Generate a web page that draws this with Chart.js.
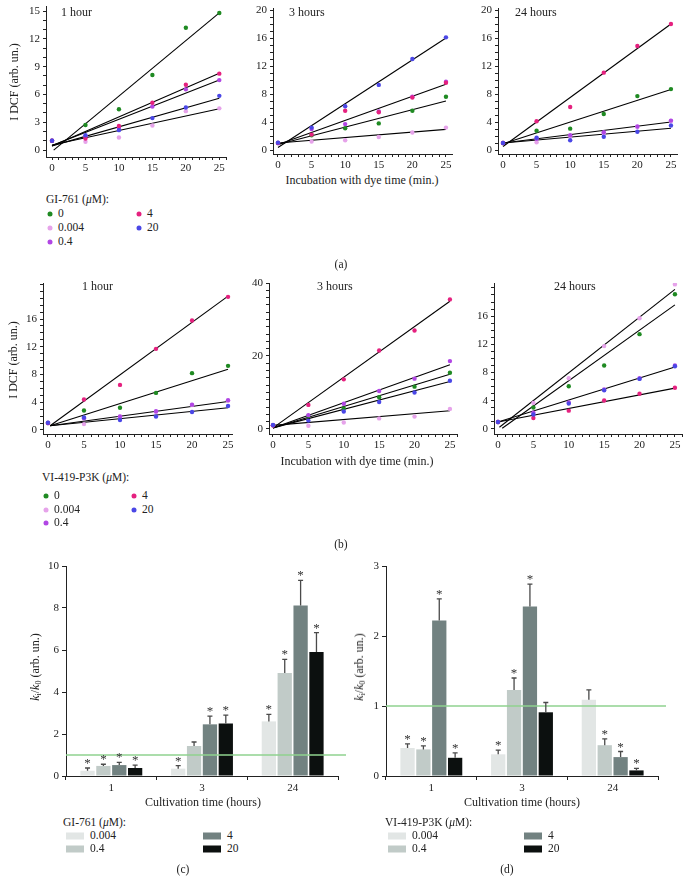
<!DOCTYPE html>
<html>
<head>
<meta charset="utf-8">
<script src="https://cdn.jsdelivr.net/npm/chart.js@4.4.0/dist/chart.umd.min.js"></script>
<style>
  body { margin: 0; width: 687px; height: 892px; position: relative; background: #fff; overflow: hidden;
         font-family: "Liberation Serif", "DejaVu Serif", serif; color: #222; }
  .box { position: absolute; }
  .t { position: absolute; font-size: 11.5px; line-height: 1; white-space: nowrap; transform: translateY(-50%); }
  .tc { position: absolute; font-size: 11.5px; line-height: 1; white-space: nowrap; transform: translate(-50%, -50%); }
  .tv { position: absolute; font-size: 11.5px; line-height: 1; white-space: nowrap; transform: translate(-50%, -50%) rotate(-90deg); }
  .dot { position: absolute; width: 5px; height: 5px; border-radius: 50%; transform: translate(-50%, -50%); }
  .sw { position: absolute; width: 18px; height: 7px; transform: translateY(-50%); }
  sub { font-size: 8px; vertical-align: -2px; line-height: 0; }
</style>
</head>
<body>
<script>
const FONT = '"Liberation Serif", "DejaVu Serif", serif';
Chart.defaults.font.family = FONT;
Chart.defaults.color = '#222';

// ---- data ----
const minutes = [0, 5, 10, 15, 20, 25];
const doses = ['0', '0.004', '0.4', '4', '20'];
const doseColors = ['#1f8a22', '#e6a3ea', '#b146e4', '#e5217f', '#4a47e6'];

// (a) GI-761, rows follow doses
const a1Vals = [
  [1.0, 2.7, 4.4, 8.1, 13.2, 14.8],
  [1.0, 0.9, 1.35, 2.65, 4.2, 4.5],
  [1.0, 1.5, 2.4, 4.7, 6.55, 7.55],
  [1.0, 1.25, 2.6, 5.1, 7.05, 8.25],
  [1.0, 1.6, 2.15, 3.45, 4.6, 5.85]
];
const a2Vals = [
  [1.0, 2.1, 3.1, 3.8, 5.6, 7.6],
  [1.0, 1.2, 1.4, 1.85, 2.5, 3.2],
  [1.0, 3.0, 3.7, 5.5, 7.6, 9.75],
  [1.0, 2.2, 5.6, 5.4, 7.5, 9.6],
  [1.05, 3.2, 6.25, 9.3, 13.0, 16.1]
];
const a3Vals = [
  [1.0, 2.75, 3.05, 5.15, 7.7, 8.7],
  [1.0, 1.1, 2.0, 2.4, 3.3, 4.15],
  [1.0, 1.6, 2.1, 2.55, 3.35, 4.2],
  [1.0, 4.1, 6.15, 11.05, 14.85, 18.0],
  [1.0, 1.75, 1.4, 1.9, 2.6, 3.5]
];
// fitted lines: [x0, y0, x1, y1]
const a1Fits = [[0.25, 0, 25, 14.8], [0, 0.55, 25, 4.45], [0, 0.5, 25, 7.55], [0, 0.45, 25, 8.3], [0, 0.45, 25, 5.6]];
const a2Fits = [[0, 0.8, 25, 7.0], [0, 1.0, 25, 2.95], [0, 0.8, 25, 9.4], [0, 0.35, 25, 16.0]];
const a3Fits = [[0, 0.5, 25, 18.0], [0, 0.9, 25, 8.65], [0, 1.0, 25, 4.0], [0, 1.0, 25, 3.1]];

// (b) VI-419-P3K
const b1Vals = [
  [1.0, 2.8, 3.2, 5.35, 8.2, 9.25],
  [1.0, 0.85, 1.9, 2.6, 3.6, 4.2],
  [1.0, 1.7, 1.95, 2.7, 3.65, 4.3],
  [1.0, 4.4, 6.5, 11.7, 15.8, 19.2],
  [1.05, 1.8, 1.45, 1.95, 2.6, 3.45]
];
const b2Vals = [
  [1.0, 3.6, 5.6, 8.7, 11.6, 15.4],
  [1.0, 0.9, 1.8, 2.9, 3.4, 5.5],
  [1.0, 3.8, 6.9, 10.4, 13.8, 18.6],
  [1.0, 6.6, 13.6, 21.5, 27.0, 35.5],
  [1.1, 2.3, 4.8, 7.4, 10.0, 13.2]
];
const b3Vals = [
  [1.0, 3.05, 6.05, 9.0, 13.45, 19.1],
  [1.0, 3.7, 7.2, 11.75, 15.7, 20.5],
  [1.0, 2.3, 3.75, 5.6, 7.2, 9.0],
  [1.0, 1.55, 2.6, 4.05, 5.0, 5.85],
  [1.0, 2.05, 3.6, 5.5, 7.1, 8.9]
];
const b1Fits = [[0.3, 0.6, 25, 19.3], [0.3, 0.6, 25, 8.75], [0.3, 0.6, 25, 4.1], [0.3, 0.6, 25, 3.2]];
const b2Fits = [[0, 0.3, 25, 35.0], [0, 0.3, 25, 17.6], [0, 0.3, 25, 15.0], [0, 0.3, 25, 13.0], [0, 1.0, 25, 5.0]];
const b3Fits = [[0.2, 0.25, 25, 19.8], [0.6, 0.1, 25, 17.6], [0, 1.0, 25, 8.8], [0, 1.0, 25, 5.8]];

// (c), (d) ki/k0 bars, rows follow barDoses, columns follow hours
const hours = ['1', '3', '24'];
const barDoses = ['0.004', '0.4', '4', '20'];
const barColors = ['#e2e6e5', '#c1cbc8', '#728281', '#0c100f'];
const cMeans = [[0.25, 0.35, 2.6], [0.48, 1.43, 4.91], [0.52, 2.46, 8.12], [0.38, 2.5, 5.91]];
const cTops = [[0.38, 0.49, 2.93], [0.56, 1.62, 5.55], [0.65, 2.85, 9.32], [0.52, 2.9, 6.83]];
const cStars = [[1, 1, 1], [1, 0, 1], [1, 1, 1], [1, 1, 1]];
const dMeans = [[0.40, 0.31, 1.09], [0.38, 1.23, 0.44], [2.22, 2.42, 0.27], [0.26, 0.91, 0.08]];
const dTops = [[0.46, 0.37, 1.23], [0.43, 1.40, 0.53], [2.53, 2.74, 0.35], [0.33, 1.05, 0.11]];
const dStars = [[1, 1, 0], [1, 1, 1], [1, 1, 1], [1, 0, 1]];

// ---- layout helpers ----
const PT = 12, PR = 14;

function makeCanvas(area, yw, xh) {
  const d = document.createElement('div');
  d.className = 'box';
  d.style.left = (area.l - yw) + 'px';
  d.style.top = (area.t - PT) + 'px';
  d.style.width = (area.r - area.l + yw + PR) + 'px';
  d.style.height = (area.b - area.t + PT + xh) + 'px';
  const c = document.createElement('canvas');
  d.appendChild(c);
  document.body.appendChild(d);
  return c;
}

function axisBase() {
  return {
    border: { color: '#222', width: 1 },
    grid: { drawOnChartArea: false, drawTicks: true, tickLength: 3, color: '#222' }
  };
}

function scatterChart(area, vals, fits, xr, yr, yStep, yEvery, yLabelMax) {
  const YW = 30, XH = 18;
  const canvas = makeCanvas(area, YW, XH);
  const ds = [];
  vals.forEach((v, i) => ds.push({
    data: minutes.map((m, k) => ({ x: m, y: v[k] })),
    backgroundColor: doseColors[i], borderWidth: 0,
    pointRadius: 2.2, pointHoverRadius: 2.2, order: 4 - i
  }));
  fits.forEach(f => ds.push({
    data: [{ x: f[0], y: f[1] }, { x: f[2], y: f[3] }],
    showLine: true, borderColor: '#000', borderWidth: 1.1,
    pointRadius: 0, fill: false, order: 10
  }));
  return new Chart(canvas, {
    type: 'scatter',
    data: { datasets: ds },
    options: {
      responsive: true, maintainAspectRatio: false, animation: false, events: [],
      layout: { padding: { top: PT, right: PR, left: 0, bottom: 0 } },
      plugins: { legend: { display: false }, tooltip: { enabled: false } },
      scales: {
        x: Object.assign(axisBase(), {
          type: 'linear', min: xr[0], max: xr[1],
          ticks: { stepSize: 1, autoSkip: false, includeBounds: false, maxRotation: 0, padding: 2,
                   font: { size: 11 }, color: '#222',
                   callback: v => (Math.round(v) === v && v % 5 === 0) ? String(v) : '' },
          afterFit: s => { s.height = XH; }
        }),
        y: Object.assign(axisBase(), {
          type: 'linear', min: yr[0], max: yr[1],
          ticks: { stepSize: yStep, autoSkip: false, includeBounds: false, padding: 3,
                   font: { size: 11 }, color: '#222',
                   callback: v => {
                     const r = Math.round(v);
                     return (Math.abs(r - v) < 1e-6 && r % yEvery === 0 && r >= 0 && r <= yLabelMax) ? String(r) : '';
                   } },
          afterFit: s => { s.width = YW; }
        })
      }
    }
  });
}

const refLine = {
  id: 'refLine',
  afterDatasetsDraw(chart) {
    const { ctx, chartArea, scales } = chart;
    const y = scales.y.getPixelForValue(1);
    ctx.save();
    ctx.strokeStyle = '#8fd28f';
    ctx.lineWidth = 1.5;
    ctx.beginPath();
    ctx.moveTo(chartArea.left, y);
    ctx.lineTo(chartArea.right + 8, y);
    ctx.stroke();
    ctx.restore();
  }
};

function errorBars(tops, stars) {
  return {
    id: 'errorBars',
    afterDatasetsDraw(chart) {
      const ctx = chart.ctx, ys = chart.scales.y;
      ctx.save();
      ctx.font = '13px ' + FONT;
      ctx.textAlign = 'center';
      ctx.textBaseline = 'alphabetic';
      chart.data.datasets.forEach((ds, i) => {
        chart.getDatasetMeta(i).data.forEach((bar, k) => {
          const yt = ys.getPixelForValue(tops[i][k]);
          ctx.strokeStyle = '#4a4a4a';
          ctx.lineWidth = 1.3;
          ctx.beginPath();
          ctx.moveTo(bar.x, bar.y);
          ctx.lineTo(bar.x, yt);
          ctx.moveTo(bar.x - 2.5, yt);
          ctx.lineTo(bar.x + 2.5, yt);
          ctx.stroke();
          if (stars[i][k]) {
            ctx.fillStyle = '#333';
            ctx.fillText('*', bar.x, yt - 1);
          }
        });
      });
      ctx.restore();
    }
  };
}

function barChart(area, means, tops, stars, ymax, yStep) {
  const YW = 30, XH = 20;
  const canvas = makeCanvas(area, YW, XH);
  return new Chart(canvas, {
    type: 'bar',
    data: {
      labels: hours,
      datasets: barDoses.map((d, i) => ({
        label: d, data: means[i], backgroundColor: barColors[i], borderWidth: 0,
        categoryPercentage: 0.7, barPercentage: 0.9
      }))
    },
    options: {
      responsive: true, maintainAspectRatio: false, animation: false, events: [],
      layout: { padding: { top: PT, right: PR, left: 0, bottom: 0 } },
      plugins: { legend: { display: false }, tooltip: { enabled: false } },
      scales: {
        x: {
          border: { color: '#222', width: 1 },
          grid: { offset: true, drawOnChartArea: false, drawTicks: true, tickLength: 4, color: '#222' },
          ticks: { padding: 2, font: { size: 11 }, color: '#222', maxRotation: 0 },
          afterFit: s => { s.height = XH; }
        },
        y: {
          min: 0, max: ymax,
          border: { color: '#222', width: 1 },
          grid: { drawOnChartArea: false, drawTicks: true, tickLength: 4, color: '#222' },
          ticks: { stepSize: yStep, padding: 3, font: { size: 11 }, color: '#222' },
          afterFit: s => { s.width = YW; }
        }
      }
    },
    plugins: [refLine, errorBars(tops, stars)]
  });
}

// ---- charts ----
scatterChart({ l: 46, r: 226, t: 6, b: 157 }, a1Vals, a1Fits, [-0.9, 26], [-0.75, 15.55], 1, 3, 15);
scatterChart({ l: 273, r: 452, t: 8, b: 154 }, a2Vals, a2Fits, [-0.744, 25.9], [-0.57, 20.29], 1, 4, 20);
scatterChart({ l: 498, r: 677, t: 8, b: 154 }, a3Vals, a3Fits, [-0.744, 25.9], [-0.57, 20.29], 1, 4, 20);

scatterChart({ l: 43, r: 232, t: 283, b: 434 }, b1Vals, b1Fits, [-0.69, 25.55], [-0.58, 21.2], 1, 4, 16);
scatterChart({ l: 269, r: 457, t: 283, b: 434 }, b2Vals, b2Fits, [-0.565, 26], [-1.37, 40], 2, 20, 40);
scatterChart({ l: 494, r: 682, t: 283, b: 434 }, b3Vals, b3Fits, [-0.565, 26], [-0.71, 20.7], 1, 4, 16);

barChart({ l: 66, r: 338, t: 566, b: 776 }, cMeans, cTops, cStars, 10, 2);
barChart({ l: 386, r: 658, t: 566, b: 776 }, dMeans, dTops, dStars, 3, 1);

// ---- text ----
function txt(cls, x, y, html, size) {
  const e = document.createElement('div');
  e.className = cls;
  e.style.left = x + 'px';
  e.style.top = y + 'px';
  if (size) e.style.fontSize = size + 'px';
  e.innerHTML = html;
  document.body.appendChild(e);
}
function dot(x, y, color) {
  const e = document.createElement('div');
  e.className = 'dot';
  e.style.left = x + 'px';
  e.style.top = y + 'px';
  e.style.background = color;
  document.body.appendChild(e);
}
function swatch(x, y, color) {
  const e = document.createElement('div');
  e.className = 'sw';
  e.style.left = x + 'px';
  e.style.top = y + 'px';
  e.style.background = color;
  document.body.appendChild(e);
}

// panel titles
txt('t', 61, 12, '1 hour', 12);
txt('t', 289, 12, '3 hours', 12);
txt('t', 515, 12, '24 hours', 12);
txt('t', 82, 286, '1 hour', 12);
txt('t', 317, 286, '3 hours', 12);
txt('t', 554, 286, '24 hours', 12);

// axis titles
txt('tv', 14, 82, 'I DCF (arb. un.)', 12);
txt('tv', 13, 360, 'I DCF (arb. un.)', 12);
txt('tc', 362, 180, 'Incubation with dye time (min.)', 12);
txt('tc', 357, 461, 'Incubation with dye time (min.)', 12);
txt('tv', 35, 667, '<i>k</i><sub>i</sub>/<i>k</i><sub>0</sub> (arb. un.)', 12);
txt('tv', 359, 667, '<i>k</i><sub>i</sub>/<i>k</i><sub>0</sub> (arb. un.)', 12);
txt('tc', 203, 802, 'Cultivation time (hours)', 12);
txt('tc', 522, 802, 'Cultivation time (hours)', 12);

// scatter legends
function dotLegend(title, tx, ty, rows, c1, c2) {
  txt('t', tx, ty, title);
  const pos = [[c1, rows[0]], [c1, rows[1]], [c1, rows[2]], [c2, rows[0]], [c2, rows[1]]];
  doses.forEach((d, i) => {
    dot(pos[i][0], pos[i][1], doseColors[i]);
    txt('t', pos[i][0] + 8, pos[i][1], d);
  });
}
dotLegend('GI-761 (<i>μ</i>M):', 46, 200, [214, 228, 242], 50, 139);
dotLegend('VI-419-P3K (<i>μ</i>M):', 42, 478, [496, 510, 523], 46, 134);

// bar legends
function barLegend(title, tx, ty, rows, c1, c2) {
  txt('t', tx, ty, title);
  const pos = [[c1, rows[0]], [c1, rows[1]], [c2, rows[0]], [c2, rows[1]]];
  barDoses.forEach((d, i) => {
    swatch(pos[i][0], pos[i][1], barColors[i]);
    txt('t', pos[i][0] + 24, pos[i][1], d);
  });
}
barLegend('GI-761 (<i>μ</i>M):', 63, 823, [836, 849], 66, 203);
barLegend('VI-419-P3K (<i>μ</i>M):', 385, 823, [836, 849], 388, 524);

// panel letters
txt('tc', 341, 265, '(a)');
txt('tc', 341, 545, '(b)');
txt('tc', 183, 870, '(c)');
txt('tc', 507, 870, '(d)');
</script>
</body>
</html>
